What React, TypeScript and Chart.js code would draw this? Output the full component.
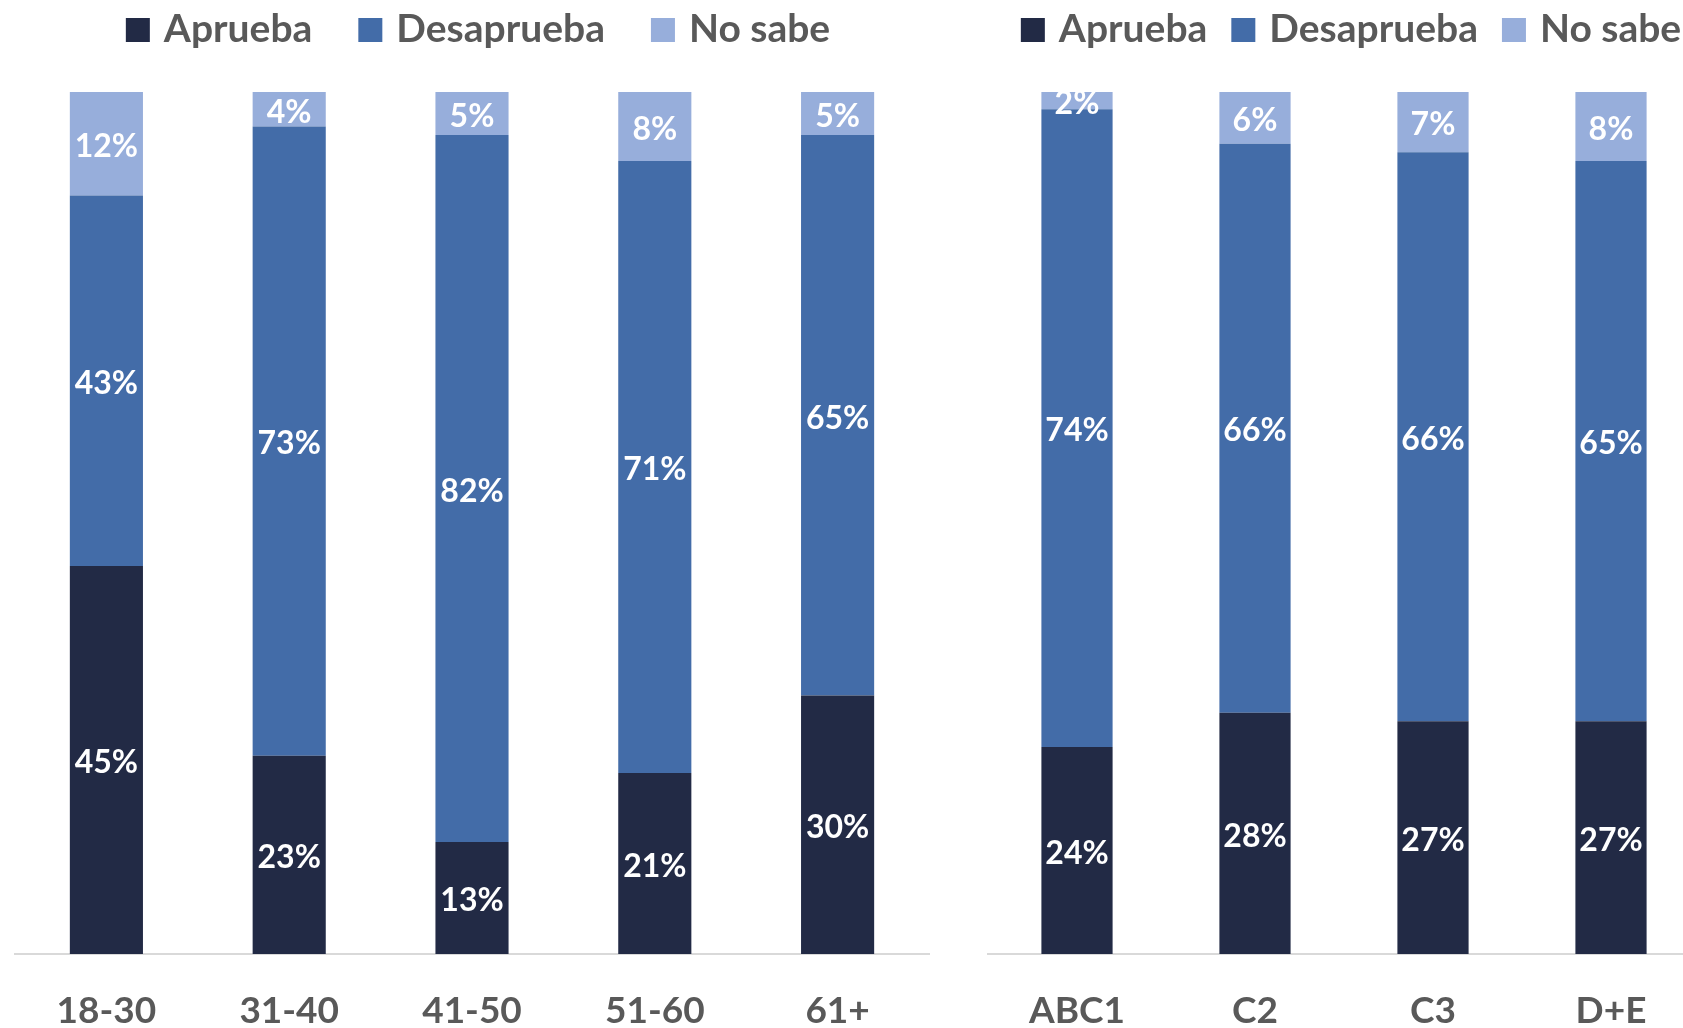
import React, { useEffect, useRef } from "react";
import { Chart, registerables } from "chart.js";

Chart.register(...registerables);

const seriesLabels = ["Aprueba", "Desaprueba", "No sabe"];
const seriesColors = ["#222A45", "#436CA8", "#97AEDB"];

const ageCategories = ["18-30", "31-40", "41-50", "51-60", "61+"];
const ageAprueba = [45, 23, 13, 21, 30];
const ageDesaprueba = [43, 73, 82, 71, 65];
const ageNoSabe = [12, 4, 5, 8, 5];

const gseCategories = ["ABC1", "C2", "C3", "D+E"];
const gseAprueba = [24, 28, 27, 27];
const gseDesaprueba = [74, 66, 66, 65];
const gseNoSabe = [2, 6, 7, 8];

const FONT = "Lato, 'Open Sans', sans-serif";
const GRAY = "#595959";
const CANVAS_H = 1070;

const segmentLabels = {
  id: "segLabels",
  afterDatasetsDraw(chart: any) {
    const { ctx, chartArea } = chart;
    ctx.save();
    ctx.beginPath();
    ctx.rect(chartArea.left, chartArea.top, chartArea.right - chartArea.left, chartArea.bottom - chartArea.top);
    ctx.clip();
    ctx.font = `bold 32px ${FONT}`;
    ctx.fillStyle = "#FFFFFF";
    ctx.textAlign = "center";
    ctx.textBaseline = "middle";
    chart.data.datasets.forEach((ds: any, i: number) => {
      const meta = chart.getDatasetMeta(i);
      meta.data.forEach((bar: any, j: number) => {
        const v = ds.data[j];
        const { x, y, base } = bar.getProps(["x", "y", "base"], true);
        ctx.fillText(`${v}%`, x, (y + base) / 2 + 3);
      });
    });
    ctx.restore();
  },
};

function makeLegend(centerX: number, y: number, gap: number) {
  return {
    id: "topLegend",
    afterDraw(chart: any) {
      const { ctx } = chart;
      ctx.save();
      ctx.font = `bold 39px ${FONT}`;
      const box = 24;
      const gapText = 14;
      const items = chart.data.datasets.map((ds: any) => ({
        text: ds.label,
        color: ds.backgroundColor,
        w: ctx.measureText(ds.label).width,
      }));
      const total =
        items.reduce((s: number, it: any) => s + box + gapText + it.w, 0) + gap * (items.length - 1);
      let x = centerX - total / 2;
      items.forEach((it: any) => {
        ctx.fillStyle = it.color;
        ctx.fillRect(x, y - box / 2, box, box);
        ctx.fillStyle = GRAY;
        ctx.textAlign = "left";
        ctx.textBaseline = "middle";
        ctx.fillText(it.text, x + box + gapText, y - 1);
        x += box + gapText + it.w + gap;
      });
      ctx.restore();
    },
  };
}

type PanelProps = {
  left: number;
  width: number;
  categories: string[];
  aprueba: number[];
  desaprueba: number[];
  noSabe: number[];
  padLeft: number;
  padRight: number;
  legendCenter: number;
  legendGap: number;
};

function Panel(p: PanelProps) {
  const ref = useRef<HTMLCanvasElement | null>(null);
  useEffect(() => {
    if (!ref.current) return;
    const values = [p.aprueba, p.desaprueba, p.noSabe];
    const chart = new Chart(ref.current, {
      type: "bar",
      data: {
        labels: p.categories,
        datasets: seriesLabels.map((label, i) => ({
          label,
          data: values[i],
          backgroundColor: seriesColors[i],
          borderWidth: 0,
          barPercentage: 0.4,
          categoryPercentage: 1,
        })),
      },
      options: {
        responsive: false,
        animation: false,
        devicePixelRatio: 1,
        layout: { padding: { top: 92, bottom: 1, left: p.padLeft, right: p.padRight } },
        plugins: { legend: { display: false }, tooltip: { enabled: false } },
        scales: {
          x: {
            stacked: true,
            offset: true,
            grid: { display: false, drawTicks: false },
            border: { display: true, color: "#D9D9D9", width: 2 },
            ticks: {
              color: GRAY,
              padding: 39,
              font: { family: FONT, size: 37, weight: "bold", lineHeight: 1 },
              maxRotation: 0,
              autoSkip: false,
            },
          },
          y: {
            stacked: true,
            display: false,
            min: 0,
            max: 100,
          },
        },
      },
      plugins: [segmentLabels, makeLegend(p.legendCenter, 30, p.legendGap)],
    } as any);
    return () => chart.destroy();
  }, []);
  return (
    <canvas
      ref={ref}
      width={p.width}
      height={CANVAS_H}
      style={{ position: "absolute", left: p.left, top: 0, width: p.width, height: CANVAS_H }}
    />
  );
}

export default function App() {
  return (
    <div
      style={{
        position: "fixed",
        left: 0,
        top: 0,
        width: 1683,
        height: 1028,
        overflow: "hidden",
        background: "#FFFFFF",
      }}
    >
      <Panel
        left={0}
        width={945}
        categories={ageCategories}
        aprueba={ageAprueba}
        desaprueba={ageDesaprueba}
        noSabe={ageNoSabe}
        padLeft={15}
        padRight={16}
        legendCenter={478}
        legendGap={46}
      />
      <Panel
        left={960}
        width={760}
        categories={gseCategories}
        aprueba={gseAprueba}
        desaprueba={gseDesaprueba}
        noSabe={gseNoSabe}
        padLeft={28}
        padRight={20}
        legendCenter={391}
        legendGap={24}
      />
    </div>
  );
}
